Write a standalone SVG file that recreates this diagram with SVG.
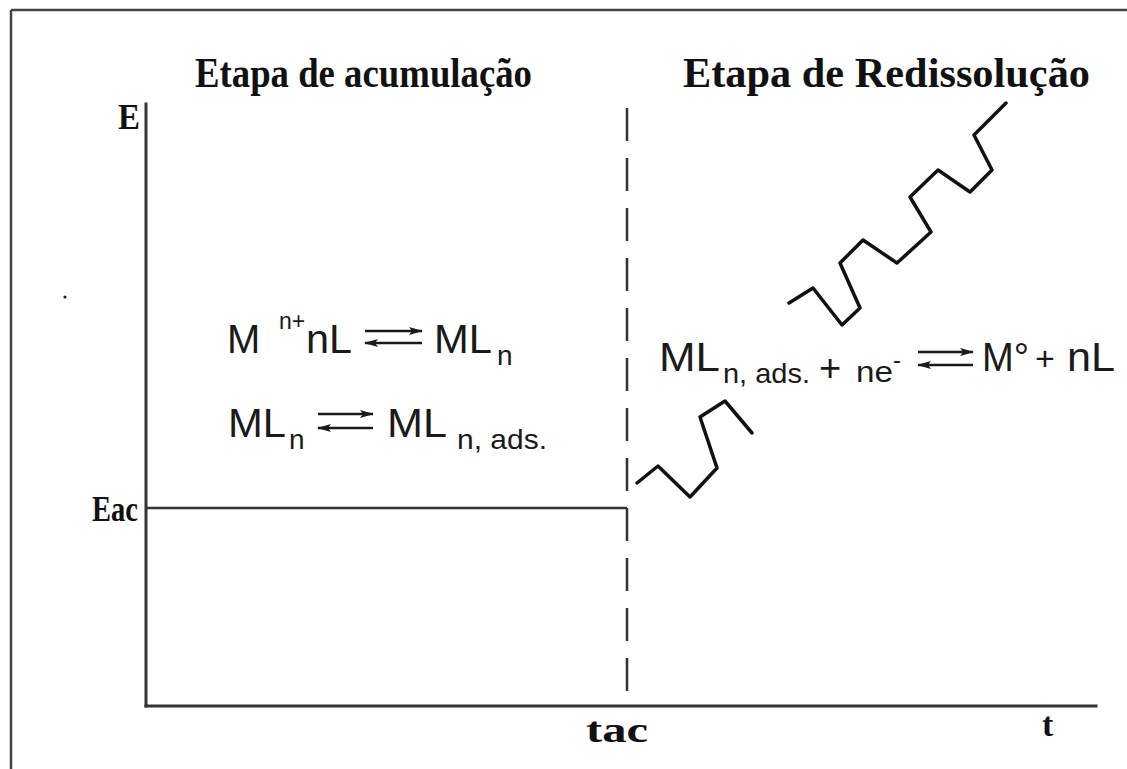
<svg xmlns="http://www.w3.org/2000/svg" width="1127" height="769" viewBox="0 0 1127 769">
<style>
.ax{stroke:#333;stroke-width:3;fill:none;stroke-linecap:square}
.wave{stroke:#111;stroke-width:3.5;fill:none;stroke-linejoin:round;stroke-linecap:round}
.ttl{font-family:"Liberation Serif","Times New Roman",serif;font-weight:bold;fill:#111}
.eq{font-family:"Liberation Sans",Arial,sans-serif;fill:#1a1a1a}
.arr{stroke:#1a1a1a;stroke-width:2.6;fill:none}
</style>
<defs>
<marker id="hR" markerWidth="14" markerHeight="8" refX="13" refY="4" orient="auto" markerUnits="userSpaceOnUse"><path d="M0,0 L14,4 L0,8 L3,4 z" fill="#1a1a1a"/></marker>
</defs>
<rect width="1127" height="769" fill="#fff"/>
<g id="frame">
<line x1="11" y1="10" x2="1127" y2="10" stroke="#444" stroke-width="2.5"/>
<line x1="11" y1="10" x2="11" y2="769" stroke="#444" stroke-width="2.5"/>
</g>
<g id="titles">
<text class="ttl" x="195" y="87" font-size="43" textLength="337" lengthAdjust="spacingAndGlyphs">Etapa de acumulação</text>
<text class="ttl" x="683" y="87" font-size="43" textLength="407" lengthAdjust="spacingAndGlyphs">Etapa de Redissolução</text>
</g>
<g id="axes">
<line class="ax" x1="146" y1="104" x2="146" y2="706"/>
<line class="ax" x1="146" y1="706" x2="1096" y2="706"/>
<line x1="146" y1="508" x2="627" y2="508" stroke="#333" stroke-width="2.5"/>
<line x1="627" y1="108" x2="627" y2="706" stroke="#333" stroke-width="2.5" stroke-dasharray="33 17"/>
</g>
<g id="labels">
<text class="ttl" x="118" y="129" font-size="35" textLength="22" lengthAdjust="spacingAndGlyphs">E</text>
<text class="ttl" x="92" y="521" font-size="35" textLength="46" lengthAdjust="spacingAndGlyphs">Eac</text>
<text class="ttl" x="586" y="742" font-size="36" textLength="62" lengthAdjust="spacingAndGlyphs">tac</text>
<text class="ttl" x="1042" y="736" font-size="34">t</text>
<circle cx="65" cy="297" r="1.6" fill="#222"/>
</g>
<g id="eq1">
<text class="eq" x="227" y="353" font-size="40">M</text>
<text class="eq" x="279" y="329" font-size="23">n+</text>
<text class="eq" x="306" y="353" font-size="40" textLength="46" lengthAdjust="spacingAndGlyphs">nL</text>
<line class="arr" x1="365" y1="331" x2="422" y2="331" marker-end="url(#hR)"/>
<line class="arr" x1="422" y1="343" x2="365" y2="343" marker-end="url(#hR)"/>
<text class="eq" x="434" y="353" font-size="40" textLength="58" lengthAdjust="spacingAndGlyphs">ML</text>
<text class="eq" x="497" y="365" font-size="28">n</text>
</g>
<g id="eq2">
<text class="eq" x="228" y="437" font-size="40" textLength="58" lengthAdjust="spacingAndGlyphs">ML</text>
<text class="eq" x="289" y="449" font-size="28">n</text>
<line class="arr" x1="318" y1="414" x2="373" y2="414" marker-end="url(#hR)"/>
<line class="arr" x1="373" y1="428" x2="318" y2="428" marker-end="url(#hR)"/>
<text class="eq" x="387" y="437" font-size="40" textLength="60" lengthAdjust="spacingAndGlyphs">ML</text>
<text class="eq" x="457" y="449" font-size="28" textLength="90" lengthAdjust="spacingAndGlyphs">n, ads.</text>
</g>
<g id="eq3">
<text class="eq" x="659" y="371" font-size="40" textLength="61" lengthAdjust="spacingAndGlyphs">ML</text>
<text class="eq" x="723" y="383" font-size="28" textLength="87" lengthAdjust="spacingAndGlyphs">n, ads.</text>
<text class="eq" x="819" y="381" font-size="38">+</text>
<text class="eq" x="856" y="382" font-size="30" textLength="37" lengthAdjust="spacingAndGlyphs">ne</text>
<text class="eq" x="893" y="368" font-size="24">-</text>
<line class="arr" x1="918" y1="352" x2="973" y2="352" marker-end="url(#hR)"/>
<line class="arr" x1="973" y1="365" x2="918" y2="365" marker-end="url(#hR)"/>
<text class="eq" x="982" y="371" font-size="40" textLength="47" lengthAdjust="spacingAndGlyphs">M°</text>
<text class="eq" x="1035" y="370" font-size="34">+</text>
<text class="eq" x="1067" y="371" font-size="40" textLength="48" lengthAdjust="spacingAndGlyphs">nL</text>
</g>
<g id="waves">
<polyline class="wave" points="637,483 658,466 690,497 717,468 700,417 725,401 752,433"/>
<polyline class="wave" points="789,303 813,288 842,325 860,308 840,263 863,240 897,263 931,232 910,197 938,170 970,192 992,170 974,135 1006,103"/>
</g>
</svg>
